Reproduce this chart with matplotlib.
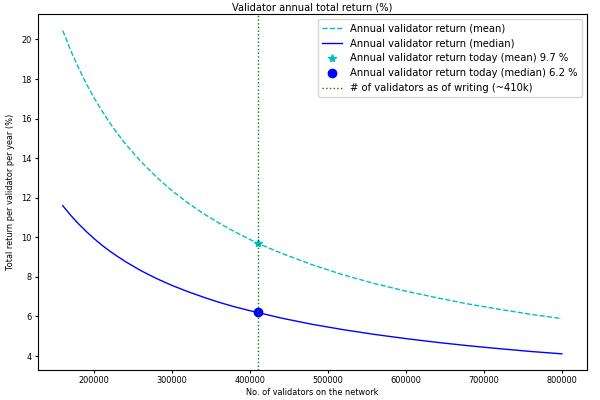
import matplotlib
matplotlib.use('Agg')
import matplotlib.pyplot as plt

# number of validators on the network
validators = [160000, 170000, 180000, 190000, 200000, 210000, 220000, 230000,
              240000, 260000, 280000, 300000, 320000, 340000, 360000, 380000,
              400000, 410000, 440000, 480000, 520000, 560000, 600000, 640000,
              680000, 720000, 760000, 800000]

# annual total return per validator (%)
return_mean = [20.45, 19.46, 18.58, 17.78, 17.06, 16.41, 15.80, 15.25,
               14.74, 13.84, 13.05, 12.36, 11.75, 11.21, 10.73, 10.29,
               9.89, 9.70, 9.20, 8.61, 8.10, 7.66, 7.28, 6.94,
               6.63, 6.36, 6.11, 5.89]
return_median = [11.60, 11.12, 10.69, 10.30, 9.94, 9.61, 9.31, 9.04,
                 8.78, 8.32, 7.92, 7.57, 7.26, 6.98, 6.72, 6.49,
                 6.29, 6.20, 5.92, 5.60, 5.33, 5.09, 4.88, 4.69,
                 4.52, 4.37, 4.23, 4.11]

n_today = 410000
mean_today = 9.7
median_today = 6.2

fig = plt.figure(figsize=(6, 4), dpi=100)
ax = fig.add_axes([0.063, 0.075, 0.915, 0.889])

ax.plot(validators, return_mean, 'c--', lw=1.0, label='Annual validator return (mean)')
ax.plot(validators, return_median, 'b-', lw=1.0, label='Annual validator return (median)')
ax.plot(n_today, mean_today, 'c*', ms=6, label='Annual validator return today (mean) %.1f %%' % mean_today)
ax.plot(n_today, median_today, 'bo', ms=6, label='Annual validator return today (median) %.1f %%' % median_today)
ax.axvline(n_today, color='g', ls=':', lw=1.0, label='# of validators as of writing (~410k)')

ax.set_title('Validator annual total return (%)', fontsize=7.1, pad=3)
ax.set_xlabel('No. of validators on the network', fontsize=5.9, labelpad=2)
ax.set_ylabel('Total return per validator per year (%)', fontsize=5.9, labelpad=4)
ax.tick_params(labelsize=5.9, length=2.5, pad=2)
ax.legend(loc='upper right', fontsize=7.2)

fig.savefig('out.png', dpi=100)
